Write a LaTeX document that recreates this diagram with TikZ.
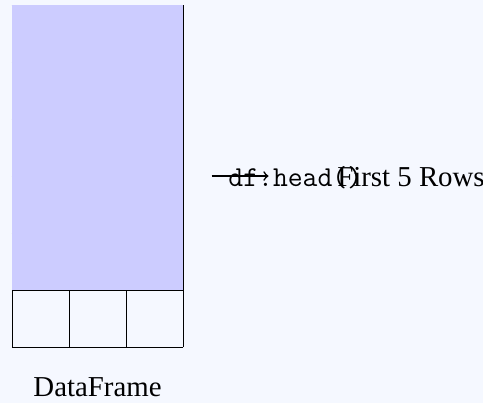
\documentclass[tikz,border=0pt]{standalone}
\usepackage{fontspec}
\setmainfont{Liberation Serif}
\definecolor{bgcol}{RGB}{245,248,255}
\definecolor{rowfill}{RGB}{204,204,255}
\tikzset{
  lbl/.style={font=\Large, inner sep=0pt, anchor=base},
  gridline/.style={draw=black, line width=0.4pt},
  arr/.style={->, line width=0.8pt}
}
\begin{document}
\begin{tikzpicture}
  \fill[bgcol] (-0.2105,-0.982) rectangle (8.263,6.088);
  \useasboundingbox (-0.2105,-0.982) rectangle (8.263,6.088);
  \draw[gridline] (0,0) grid (3,6);
  \fill[rowfill] (0,1) rectangle (3,6);
  \node[lbl] (df) at (1.5,-0.86) {DataFrame};
  \coordinate (s) at (3.5,3);
  \coordinate (e) at (4.5,3);
  \draw[arr] (s) -- (e);
  \node[lbl] (cmd) at (4.97,2.81) {\texttt{df.head()}};
  \node[lbl] (rows) at (7.0,2.81) {First 5 Rows};
\end{tikzpicture}
\end{document}
